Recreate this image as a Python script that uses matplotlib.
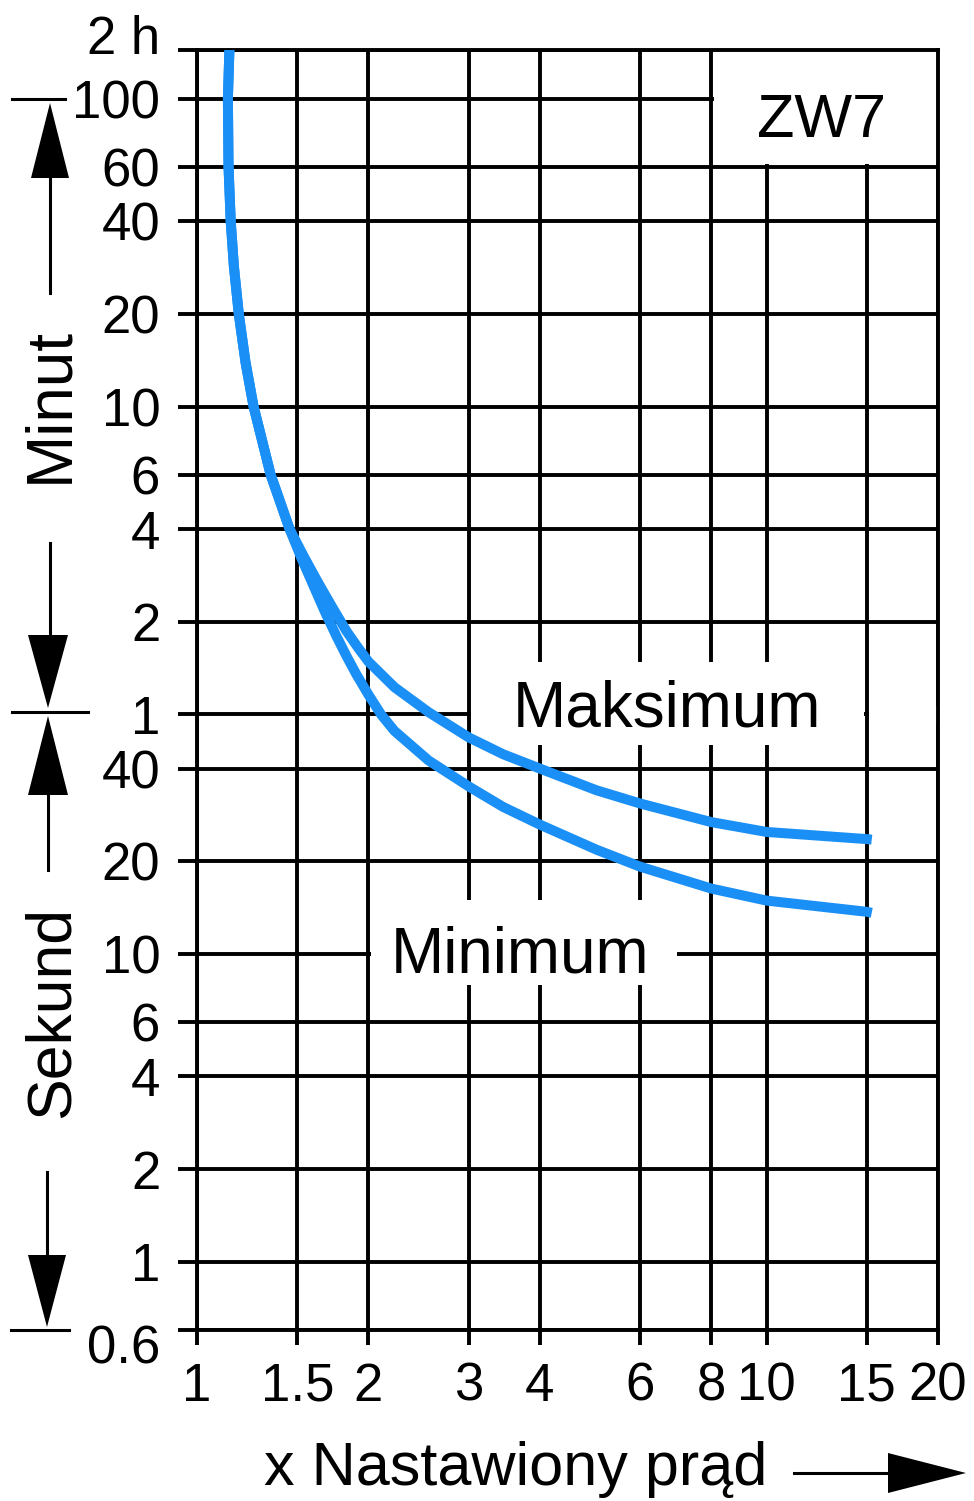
import numpy as np
import matplotlib
matplotlib.use('Agg')
import matplotlib.pyplot as plt
import matplotlib.transforms as mtransforms
from matplotlib.patches import Rectangle, Polygon
from matplotlib.lines import Line2D
from matplotlib.ticker import FixedLocator, FixedFormatter, NullLocator

# krzywe wyzwalania ZW7: x = krotnosc pradu nastawionego, t = czas w sekundach
x_common = [1.140, 1.133, 1.136, 1.146, 1.161, 1.184, 1.217, 1.257, 1.347, 1.454]
t_common = [7200, 6000, 3600, 2400, 1708, 1200, 833, 600, 360, 240]

x_max = [1.539, 1.631, 1.727, 1.829, 1.920, 2.0, 2.222, 2.550, 3.0, 3.45, 4.0,
         5.03, 6.0, 8.0, 10.0, 15.0, 15.3]
t_max = [196, 161, 134, 112, 98.5, 89, 73.5, 61, 50.5, 44.5, 40,
         34, 30.8, 26.8, 24.9, 23.6, 23.5]

x_min = [1.527, 1.604, 1.678, 1.756, 1.829, 1.904, 2.0, 2.104, 2.222, 2.550, 3.0,
         3.45, 4.0, 5.03, 6.0, 8.0, 10.0, 15.0, 15.3]
t_min = [192, 156, 129, 108, 93, 81, 69.5, 60, 53, 42.5, 35,
         30, 26.3, 21.8, 19.2, 16.3, 14.9, 13.7, 13.6]

x_ticks = [1, 1.5, 2, 3, 4, 6, 8, 10, 15, 20]
x_labels = ['1', '1.5', '2', '3', '4', '6', '8', '10', '15', '20']
y_ticks = [0.6, 1, 2, 4, 6, 10, 20, 40, 60, 120, 240, 360, 600, 1200, 2400, 3600, 6000, 7200]
y_labels = ['0.6', '1', '2', '4', '6', '10', '20', '40',
            '1', '2', '4', '6', '10', '20', '40', '60', '100', '2 h']

FONT = ['Liberation Sans', 'DejaVu Sans']
BLUE = '#1a8ff5'
LW = 2.8

# os czasu: logarytmiczna, odcinek 100 min -> 2 h rozciagniety jak na oryginale
T_BREAK = 6000.0
LB = np.log10(T_BREAK)

def fwd(t):
    lt = np.log10(np.clip(t, 1e-9, None))
    return np.where(lt > LB, LB + 2.0 * (lt - LB), lt)

def inv(v):
    return np.where(v > LB, 10 ** (LB + (v - LB) / 2.0), 10 ** v)

W, H = 974, 1501
fig = plt.figure(figsize=(W / 100, H / 100), dpi=100)
ax = fig.add_axes([197 / W, 1 - 1330 / H, (938 - 197) / W, (1330 - 50) / H])
ax.set_xscale('log')
ax.set_yscale('function', functions=(fwd, inv))
ax.set_xlim(1, 20)
ax.set_ylim(0.6, 7200)

ax.xaxis.set_major_locator(FixedLocator(x_ticks))
ax.xaxis.set_major_formatter(FixedFormatter(x_labels))
ax.xaxis.set_minor_locator(NullLocator())
ax.yaxis.set_major_locator(FixedLocator(y_ticks))
ax.yaxis.set_major_formatter(FixedFormatter(y_labels))
ax.yaxis.set_minor_locator(NullLocator())

ax.grid(True, which='major', color='black', lw=LW)
ax.tick_params(axis='y', direction='out', length=13.5, width=LW, pad=13, labelsize=38)
ax.tick_params(axis='x', direction='out', length=11, width=LW, pad=12, labelsize=38)
for s in ax.spines.values():
    s.set_linewidth(LW)
for lbl in ax.get_xticklabels() + ax.get_yticklabels():
    lbl.set_fontfamily(FONT)

ylbls = ax.get_yticklabels()
ylbls[-1].set_transform(ylbls[-1].get_transform() + mtransforms.ScaledTranslation(0, 0.15, fig.dpi_scale_trans))
ylbls[0].set_transform(ylbls[0].get_transform() + mtransforms.ScaledTranslation(0, -0.14, fig.dpi_scale_trans))

# biale pola pod napisami
ax.add_patch(Rectangle((8 * 1.01, 3600 * 1.02), 20 - 8 * 1.01, 7200 - 3600 * 1.02,
                       facecolor='white', edgecolor='none', zorder=2))
ax.add_patch(Rectangle((3 * 1.01, 47.6), 15 / 1.01 - 3 * 1.01, 89 - 47.6,
                       facecolor='white', edgecolor='none', zorder=2))
ax.add_patch(Rectangle((15 * 1.01, 56), 20 - 15 * 1.01, 8,
                       facecolor='white', edgecolor='none', zorder=2))
ax.add_patch(Rectangle((2 * 1.01, 7.9), 6.97 - 2 * 1.01, 15.0 - 7.9,
                       facecolor='white', edgecolor='none', zorder=2))

ax.plot(x_common + x_max, t_common + t_max, color=BLUE, lw=7.2,
        solid_capstyle='butt', solid_joinstyle='round', zorder=3)
ax.plot(x_common + x_min, t_common + t_min, color=BLUE, lw=7.2,
        solid_capstyle='butt', solid_joinstyle='round', zorder=3)

ax.text(12.5, 4500, 'ZW7', ha='center', va='baseline', fontsize=44, family=FONT, zorder=4)
ax.text(6.69, 54.8, 'Maksimum', ha='center', va='baseline', fontsize=46, family=FONT, zorder=4)
ax.text(3.69, 8.7, 'Minimum', ha='center', va='baseline', fontsize=46, family=FONT, zorder=4)

# strzalki i opisy poza wykresem (wspolrzedne w pikselach od gory)
px = mtransforms.Affine2D().scale(1 / W, -1 / H).translate(0, 1) + fig.transFigure

def seg(x0, y0, x1, y1):
    fig.add_artist(Line2D([x0, x1], [y0, y1], transform=px, color='black', lw=2.2))

def head(pts):
    fig.add_artist(Polygon(pts, closed=True, transform=px, facecolor='black', edgecolor='none'))

seg(12, 99, 65, 99)
head([(50, 103), (31, 178), (69, 178)])
seg(50, 178, 50, 293)
seg(50, 543, 50, 635)
head([(48, 708), (28, 635), (68, 635)])
seg(12, 712, 88, 712)
head([(48, 716), (28, 795), (68, 795)])
seg(48, 795, 48, 870)
seg(47, 1172, 47, 1255)
head([(47, 1327), (28, 1255), (66, 1255)])
seg(11, 1330, 69, 1330)

fig.text(50, 405, 'Minut', transform=px, rotation=90, ha='center', va='center',
         fontsize=46, family=FONT)
fig.text(52, 1012, 'Sekund', transform=px, rotation=90, ha='center', va='center',
         fontsize=45, family=FONT)

fig.text(264, 1485, 'x Nastawiony prąd', transform=px, ha='left', va='baseline',
         fontsize=44, family=FONT)
seg(794, 1473, 890, 1473)
head([(966, 1473), (888, 1453), (888, 1493)])

fig.savefig('out.png', dpi=100)
